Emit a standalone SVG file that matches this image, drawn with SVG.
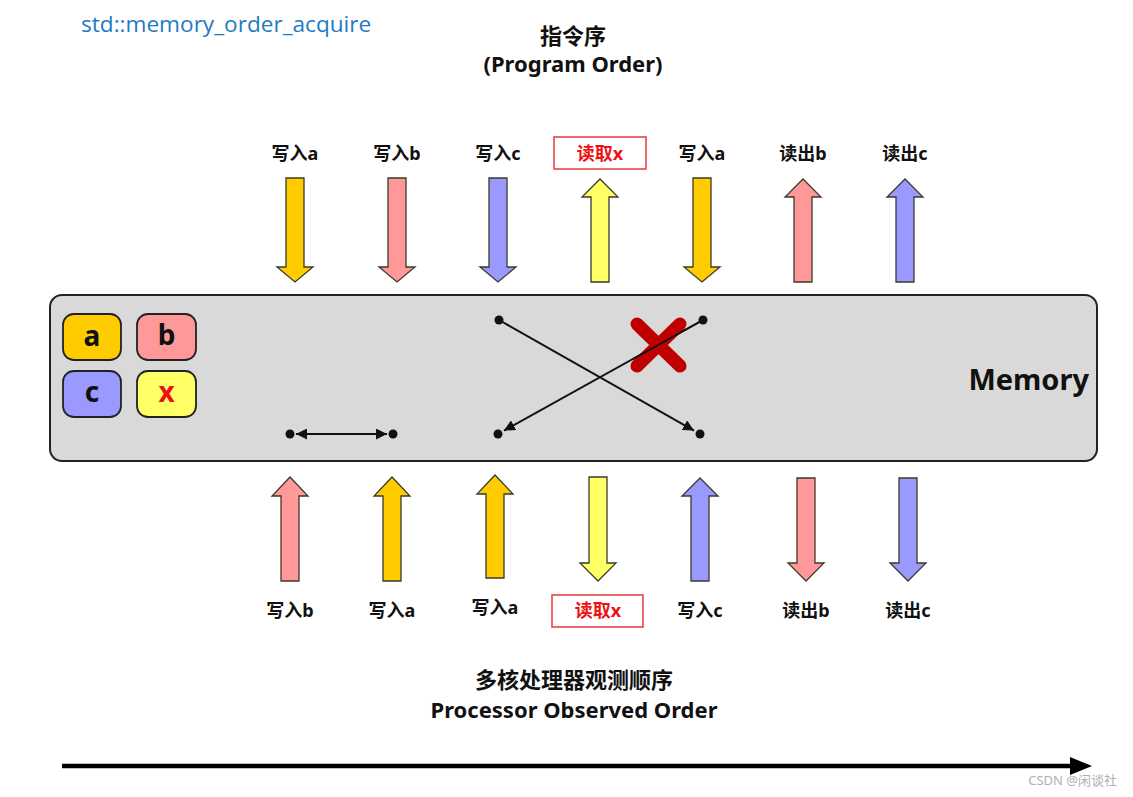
<svg xmlns="http://www.w3.org/2000/svg" width="1133" height="797" viewBox="0 0 1133 797">
<style>
.lbl{font-family:"Noto Sans","Noto Sans CJK SC",sans-serif;font-weight:bold;font-size:18px;fill:#111;text-anchor:middle;dominant-baseline:central}
.red{fill:#ee1111}
.head{font-family:"Noto Sans","Noto Sans CJK SC",sans-serif;font-weight:bold;font-size:22px;fill:#111;text-anchor:middle}
.var{font-family:"Noto Sans","Noto Sans CJK SC",sans-serif;font-weight:bold;font-size:28px;text-anchor:middle;dominant-baseline:central}
.arr{stroke:#3a3a2a;stroke-width:1.3;stroke-linejoin:miter}
.ya{fill:#FFCC00}.pa{fill:#FF9999}.ba{fill:#9999FF}.la{fill:#FFFF66}
.conn{stroke:#111;stroke-width:2;fill:none}
.dot{fill:#111}
.rbox{fill:#fff;stroke:#e83a3a;stroke-width:1.5}
</style>
<defs>
<marker id="ah" viewBox="0 0 10 10" refX="10" refY="5" markerWidth="5.5" markerHeight="5.5" orient="auto-start-reverse" markerUnits="strokeWidth">
<path d="M0,0 L10,5 L0,10 z" fill="#111"/>
</marker>
</defs>
<rect width="1133" height="797" fill="#fff"/>

<g id="title">
<text x="81" y="32" font-family="'Open Sans','Noto Sans',sans-serif" font-size="22.6" fill="#1f7ac4">std::memory_order_acquire</text>
</g>
<g id="program-order">
<text class="head" x="573" y="44">指令序</text>
<text class="head" x="573" y="72">(Program Order)</text>
</g>
<g id="observed-order">
<text class="head" x="574" y="688" font-size="22.5">多核处理器观测顺序</text>
<text class="head" x="574" y="718" font-size="23">Processor Observed Order</text>
</g>

<g id="memory">
<rect x="50" y="295" width="1047" height="166" rx="12" fill="#d9d9d9" stroke="#222" stroke-width="2"/>
<text x="1089" y="378" text-anchor="end" dominant-baseline="central" font-family="'Noto Sans','Open Sans',sans-serif" font-weight="bold" font-size="29" fill="#111">Memory</text>
</g>
<g id="var-a"><rect x="63" y="314" width="58" height="46" rx="11" class="ya" stroke="#222" stroke-width="1.8"/><text class="var" x="92" y="335" fill="#111">a</text></g>
<g id="var-b"><rect x="137" y="314" width="59" height="46" rx="11" class="pa" stroke="#222" stroke-width="1.8"/><text class="var" x="166.5" y="334" fill="#111">b</text></g>
<g id="var-c"><rect x="63" y="371" width="58" height="46" rx="11" class="ba" stroke="#222" stroke-width="1.8"/><text class="var" x="92" y="391" fill="#111">c</text></g>
<g id="var-x"><rect x="137" y="371" width="59" height="46" rx="11" class="la" stroke="#222" stroke-width="1.8"/><text class="var" x="166.5" y="391" fill="#ee1111">x</text></g>

<g id="top-labels">
<text class="lbl" x="295" y="153">写入a</text>
<text class="lbl" x="397" y="153">写入b</text>
<text class="lbl" x="498" y="153">写入c</text>
<rect class="rbox" x="554" y="137" width="92" height="32"/>
<text class="lbl red" x="600" y="153">读取x</text>
<text class="lbl" x="702" y="153">写入a</text>
<text class="lbl" x="803" y="153">读出b</text>
<text class="lbl" x="905" y="153">读出c</text>
</g>
<g id="bottom-labels">
<text class="lbl" x="290" y="610">写入b</text>
<text class="lbl" x="392" y="610">写入a</text>
<text class="lbl" x="495" y="607">写入a</text>
<rect class="rbox" x="552" y="595" width="91" height="32"/>
<text class="lbl red" x="598" y="610">读取x</text>
<text class="lbl" x="700" y="610">写入c</text>
<text class="lbl" x="806" y="610">读出b</text>
<text class="lbl" x="908" y="610">读出c</text>
</g>

<g id="connectors">
<!-- top arrows -->
<path class="arr ya" d="M286,178 H304 V267 H313 L295,282 L277,267 H286 Z"/>
<path class="arr pa" d="M388,178 H406 V267 H415 L397,282 L379,267 H388 Z"/>
<path class="arr ba" d="M489,178 H507 V267 H516 L498,282 L480,267 H489 Z"/>
<path class="arr la" d="M591,282 H609 V197 H618 L600,179 L582,197 H591 Z"/>
<path class="arr ya" d="M693,178 H711 V267 H720 L702,282 L684,267 H693 Z"/>
<path class="arr pa" d="M794,282 H812 V197 H821 L803,179 L785,197 H794 Z"/>
<path class="arr ba" d="M896,282 H914 V197 H923 L905,179 L887,197 H896 Z"/>
<!-- bottom arrows -->
<path class="arr pa" d="M281,581 H299 V496 H308 L290,477 L272,496 H281 Z"/>
<path class="arr ya" d="M383,581 H401 V496 H410 L392,477 L374,496 H383 Z"/>
<path class="arr ya" d="M486,578 H504 V494 H513 L495,475 L477,494 H486 Z"/>
<path class="arr la" d="M589,477 H607 V563 H616 L598,581 L580,563 H589 Z"/>
<path class="arr ba" d="M691,581 H709 V496 H718 L700,478 L682,496 H691 Z"/>
<path class="arr pa" d="M797,478 H815 V563 H824 L806,581 L788,563 H797 Z"/>
<path class="arr ba" d="M899,478 H917 V563 H926 L908,581 L890,563 H899 Z"/>
<!-- memory connectors -->
<line class="conn" x1="296" y1="434" x2="387" y2="434" marker-start="url(#ah)" marker-end="url(#ah)"/>
<line class="conn" x1="499" y1="320" x2="694" y2="430.6" marker-end="url(#ah)"/>
<line class="conn" x1="703" y1="320" x2="504" y2="430.6" marker-end="url(#ah)"/>
<circle class="dot" cx="290" cy="434" r="4.5"/>
<circle class="dot" cx="393" cy="434" r="4.5"/>
<circle class="dot" cx="499" cy="320" r="4.5"/>
<circle class="dot" cx="703" cy="320" r="4.5"/>
<circle class="dot" cx="498" cy="434" r="4.5"/>
<circle class="dot" cx="700" cy="434" r="4.5"/>
<!-- time axis -->
<line x1="62" y1="766" x2="1074" y2="766" stroke="#000" stroke-width="4.5"/>
<path d="M1070,757 L1092,766 L1070,775 Z" fill="#000"/>
</g>

<g id="cross-mark">
<path d="M637,324 L680,366 M680,324 L637,366" stroke="#c00000" stroke-width="13" stroke-linecap="round" fill="none"/>
<line x1="703" y1="320" x2="633" y2="359" stroke="#111" stroke-width="2"/>
</g>

<g id="watermark">
<text x="1117" y="785" text-anchor="end" font-family="'Noto Sans','Noto Sans CJK SC',sans-serif" font-size="13" fill="#b0b0b0">CSDN @闲谈社</text>
</g>
</svg>
